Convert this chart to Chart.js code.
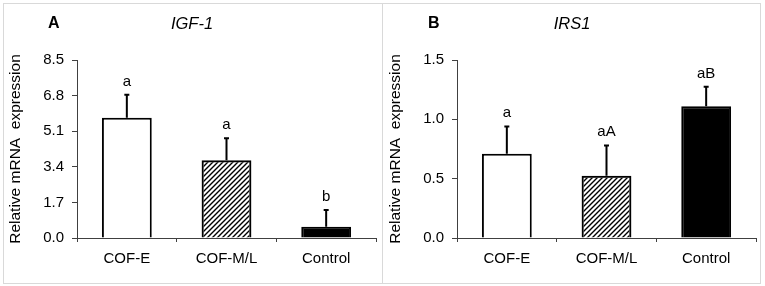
<!DOCTYPE html>
<html>
<head>
<meta charset="utf-8">
<script src="https://cdn.jsdelivr.net/npm/chart.js@4/dist/chart.umd.min.js"></script>
<style>
body { margin: 0; background: #fff; font-family: "Liberation Sans", Arial, sans-serif; }
#wrap { position: relative; width: 765px; height: 286px; overflow: hidden; }
.marco { position: absolute; top: 3px; height: 281px; border: 1px solid #d9d9d9; box-sizing: border-box; }
.lienzo { position: absolute; top: 0; width: 380px; height: 286px; }
.letra { position: absolute; top: 14px; font-size: 16px; font-weight: bold; }
.gen { position: absolute; top: 14px; font-size: 16.5px; font-style: italic; transform: translateX(-50%); }
</style>
</head>
<body>
<div id="wrap">
  <div class="marco" style="left:3px;width:380px;"></div>
  <div class="marco" style="left:382px;width:379px;"></div>
  <div class="lienzo" style="left:0px;"><canvas id="graficoA"></canvas></div>
  <div class="lienzo" style="left:380px;"><canvas id="graficoB"></canvas></div>
  <div class="letra" style="left:48px;">A</div>
  <div class="gen" style="left:192px;">IGF-1</div>
  <div class="letra" style="left:428px;">B</div>
  <div class="gen" style="left:572px;">IRS1</div>
</div>
<script>
// Datos
const categorias = ['COF-E', 'COF-M/L', 'Control'];
const igfMedia = [5.74, 3.71, 0.54];
const igfDE = [1.10, 1.05, 0.80];
const igfLetras = ['a', 'a', 'b'];
const igfTicks = [0, 1.7, 3.4, 5.1, 6.8, 8.5];
const irsMedia = [0.71, 0.525, 1.11];
const irsDE = [0.23, 0.255, 0.165];
const irsLetras = ['a', 'aA', 'aB'];
const irsTicks = [0, 0.5, 1.0, 1.5];

// Patron rayado
function rayado() {
    const c = document.createElement('canvas');
    c.width = 5; c.height = 5;
    const g = c.getContext('2d');
    g.strokeStyle = '#000';
    g.lineWidth = 1.4;
    g.beginPath();
    g.moveTo(-1, 6); g.lineTo(6, -1);
    g.moveTo(-1, 1); g.lineTo(1, -1);
    g.moveTo(4, 6); g.lineTo(6, 4);
    g.stroke();
    return g.createPattern(c, 'repeat');
}

// Barras de error y letras
const barrasError = {
    id: 'barrasError',
    afterDatasetsDraw(chart, args, opts) {
        const ctx = chart.ctx;
        const meta = chart.getDatasetMeta(0);
        const y = chart.scales.y;
        ctx.save();
        meta.data.forEach((bar, i) => {
            const tope = y.getPixelForValue(opts.media[i] + opts.de[i]);
            ctx.strokeStyle = '#000';
            ctx.lineWidth = 2;
            ctx.beginPath();
            ctx.moveTo(bar.x, bar.y);
            ctx.lineTo(bar.x, tope);
            ctx.moveTo(bar.x - 2.5, tope);
            ctx.lineTo(bar.x + 2.5, tope);
            ctx.stroke();
            ctx.fillStyle = '#000';
            ctx.font = '15px "Liberation Sans", Arial, sans-serif';
            ctx.textAlign = 'center';
            ctx.textBaseline = 'alphabetic';
            ctx.fillText(opts.letras[i], bar.x, tope - 9);
        });
        ctx.restore();
    }
};

function grafico(id, media, de, letras, ticks) {
    const fuente = { family: '"Liberation Sans", Arial, sans-serif', size: 15 };
    return new Chart(document.getElementById(id), {
        type: 'bar',
        data: {
            labels: categorias,
            datasets: [{
                data: media,
                backgroundColor: ['#ffffff', rayado(), '#000000'],
                borderColor: '#000',
                borderWidth: 2,
                barPercentage: 0.5,
                categoryPercentage: 1.0,
            }],
        },
        options: {
            responsive: false,
            animation: false,
            layout: { padding: { top: 60, right: 4, left: 0, bottom: 0 } },
            plugins: {
                legend: { display: false },
                tooltip: { enabled: false },
                barrasError: { media: media, de: de, letras: letras },
            },
            scales: {
                x: {
                    grid: { offset: true, drawOnChartArea: false, tickLength: 4, color: '#404040' },
                    border: { color: '#404040', width: 1 },
                    ticks: { color: '#000', font: fuente, padding: 8 },
                    afterFit(s) { s.height = 48; },
                },
                y: {
                    min: 0,
                    max: ticks[ticks.length - 1],
                    afterBuildTicks(s) { s.ticks = ticks.map(v => ({ value: v })); },
                    grid: { drawOnChartArea: false, tickLength: 5, color: '#404040' },
                    border: { color: '#404040', width: 1 },
                    ticks: { color: '#000', font: fuente, padding: 8, callback: v => Number(v).toFixed(1) },
                    title: { display: true, text: 'Relative mRNA  expression', color: '#000', font: { family: fuente.family, size: 15.5 }, padding: { top: 6, bottom: 0 } },
                    afterFit(s) { s.width = 77; },
                },
            },
        },
        plugins: [barrasError],
    });
}

document.getElementById('graficoA').width = 380;
document.getElementById('graficoA').height = 286;
document.getElementById('graficoB').width = 380;
document.getElementById('graficoB').height = 286;
grafico('graficoA', igfMedia, igfDE, igfLetras, igfTicks);
grafico('graficoB', irsMedia, irsDE, irsLetras, irsTicks);
</script>
</body>
</html>
